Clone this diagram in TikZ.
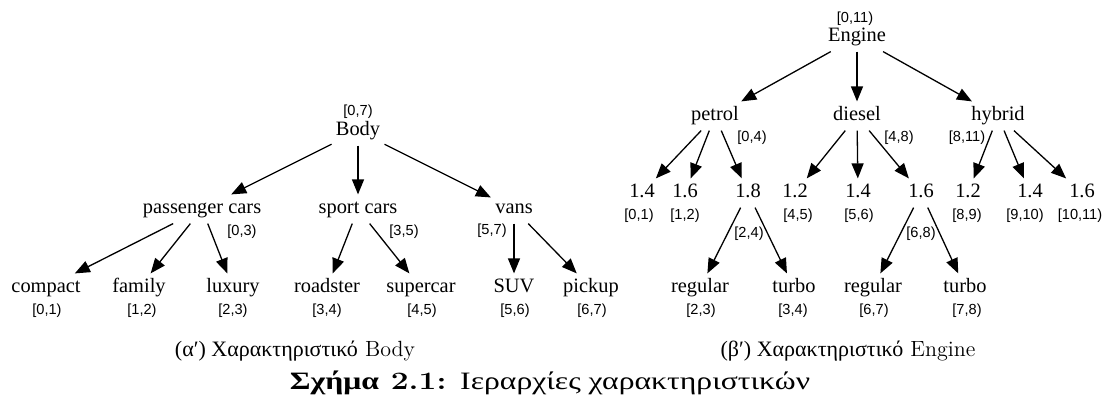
\documentclass[tikz,border=0pt]{standalone}
\usepackage{fontspec}
\usepackage{graphicx}
\usetikzlibrary{arrows.meta}
\newfontfamily\tms{Liberation Serif}
\newfontfamily\hlv{Liberation Sans}
\newfontfamily\grk{Liberation Serif}
\tikzset{
  lab/.style={font=\tms\fontsize{10.2}{12}\selectfont, inner xsep=2pt, inner ysep=2.5pt, text height=7pt, text depth=2.2pt},
  iv/.style={font=\hlv\fontsize{7.3}{9}\selectfont, inner sep=0pt},
  arr/.style={-{Triangle[length=7.5pt,width=6pt]}, line width=0.65pt},
  capt/.style={font=\fontsize{11}{13}\selectfont, inner sep=0pt},
  bigcapt/.style={font=\fontsize{12.5}{15}\selectfont, inner sep=0pt}
}
\begin{document}
\begin{tikzpicture}[x=0.5pt,y=-0.5pt]
\useasboundingbox (0,0) rectangle (1107,401);
% ---- Body tree ----
\node[iv] (b0) at (358,112) {[0,7)};
\node[lab] (body) at (358,131) {Body};
\node[lab] (pc) at (202,209) {passenger cars};
\node[iv] (pci) at (242,232) {[0,3)};
\node[lab] (sc) at (358,209) {sport cars};
\node[iv] (sci) at (404,232) {[3,5)};
\node[lab] (vans) at (514,209) {vans};
\node[iv] (vansi) at (492,231) {[5,7)};
\node[lab] (compact) at (46,288) {compact};
\node[iv] (compacti) at (47,311) {[0,1)};
\node[lab] (family) at (139,288) {family};
\node[iv] (familyi) at (142,311) {[1,2)};
\node[lab] (luxury) at (233,288) {luxury};
\node[iv] (luxuryi) at (233,311) {[2,3)};
\node[lab] (roadster) at (327,288) {roadster};
\node[iv] (roadsteri) at (327,311) {[3,4)};
\node[lab] (supercar) at (421,288) {supercar};
\node[iv] (supercari) at (422,311) {[4,5)};
\node[lab] (suv) at (514,288) {SUV};
\node[iv] (suvi) at (515,311) {[5,6)};
\node[lab] (pickup) at (591,288) {pickup};
\node[iv] (pickupi) at (592,311) {[6,7)};
\foreach \a/\b in {body/pc, body/sc, body/vans, pc/compact, pc/family, pc/luxury, sc/roadster, sc/supercar, vans/suv, vans/pickup}
  \draw[arr] (\a) -- (\b);
% ---- Engine tree ----
\node[iv] (e0) at (855,19) {[0,11)};
\node[lab] (engine) at (857,37) {Engine};
\node[lab] (petrol) at (715,116) {petrol};
\node[iv] (petroli) at (752,138) {[0,4)};
\node[lab] (diesel) at (857,116) {diesel};
\node[iv] (dieseli) at (899,138) {[4,8)};
\node[lab] (hybrid) at (998,116) {hybrid};
\node[iv] (hybridi) at (967,138) {[8,11)};
\node[lab] (p14) at (642,193) {1.4};
\node[iv] (p14i) at (639,216) {[0,1)};
\node[lab] (p16) at (685,193) {1.6};
\node[iv] (p16i) at (685,216) {[1,2)};
\node[lab] (p18) at (748,193) {1.8};
\node[iv] (p18i) at (749,234) {[2,4)};
\node[lab] (d12) at (795,193) {1.2};
\node[iv] (d12i) at (798,216) {[4,5)};
\node[lab] (d14) at (858,193) {1.4};
\node[iv] (d14i) at (859,216) {[5,6)};
\node[lab] (d16) at (921,193) {1.6};
\node[iv] (d16i) at (921,234) {[6,8)};
\node[lab] (h12) at (968,193) {1.2};
\node[iv] (h12i) at (967,216) {[8,9)};
\node[lab] (h14) at (1030,193) {1.4};
\node[iv] (h14i) at (1025,216) {[9,10)};
\node[lab] (h16) at (1082,193) {1.6};
\node[iv] (h16i) at (1080,216) {[10,11)};
\node[lab] (reg1) at (700,288) {regular};
\node[iv] (reg1i) at (701,311) {[2,3)};
\node[lab] (tur1) at (794,288) {turbo};
\node[iv] (tur1i) at (793,311) {[3,4)};
\node[lab] (reg2) at (873,288) {regular};
\node[iv] (reg2i) at (874,311) {[6,7)};
\node[lab] (tur2) at (965,288) {turbo};
\node[iv] (tur2i) at (967,311) {[7,8)};
\foreach \a/\b in {engine/petrol, engine/diesel, engine/hybrid, petrol/p14, petrol/p16, petrol/p18, diesel/d12, diesel/d14, diesel/d16, hybrid/h12, hybrid/h14, hybrid/h16, p18/reg1, p18/tur1, d16/reg2, d16/tur2}
  \draw[arr] (\a) -- (\b);
% ---- captions ----
\node[capt] (capa) at (295,351) {{\grk(α′) Χαρακτηριστικό} Body};
\node[capt] (capb) at (848,351) {{\grk(β′) Χαρακτηριστικό} Engine};
\node[bigcapt] (cap) at (550,383) {\resizebox{260pt}{\height}{\textbf{{\grk Σχήμα} 2.1:} {\grk Ιεραρχίες χαρακτηριστικών}}};
\end{tikzpicture}
\end{document}
